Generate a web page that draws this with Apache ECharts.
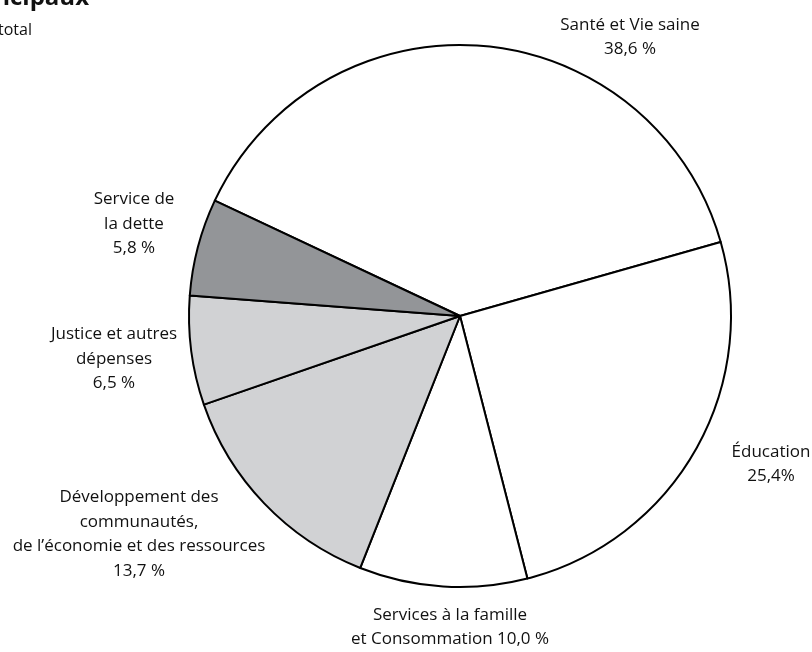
<!DOCTYPE html>
<html>
<head>
<meta charset="utf-8">
<script src="https://cdn.jsdelivr.net/npm/echarts@6/dist/echarts.min.js"></script>
<style>
html,body{margin:0;padding:0;background:#fff;}
#chart{width:812px;height:652px;}
</style>
</head>
<body>
<div id="chart"></div>
<script>
const categories = [
  'Santé et Vie saine',
  'Éducation',
  'Services à la famille\net Consommation',
  'Développement des\ncommunautés,\nde l’économie et des ressources',
  'Justice et autres\ndépenses',
  'Service de\nla dette'
];
const values = [38.6, 25.4, 10.0, 13.7, 6.5, 5.8];
const percentSuffix = [' %', '%', ' %', ' %', ' %', ' %'];
const valueOnNewLine = [true, true, false, true, true, true];
const titleText = 'Dépenses par secteurs principaux';
const subtitleText = 'En pourcentage du total';

const sliceColors = ['#ffffff', '#ffffff', '#ffffff', '#d1d2d4', '#d1d2d4', '#939598'];
const labelPos = [
  [630, 37], [771, 464], [450, 627], [139, 534], [114, 359], [134, 224]
];

const chart = echarts.init(document.getElementById('chart'));
const FONT = '"Open Sans", sans-serif';

chart.setOption({
  animation: false,
  backgroundColor: '#ffffff',
  graphic: [
    { type: 'text', x: 89, y: -2, style: { text: titleText, font: 'bold 24px "Open Sans", sans-serif', fill: '#111111', align: 'right', verticalAlign: 'middle' } },
    { type: 'text', x: 32, y: 30, style: { text: subtitleText, font: '16px "Open Sans", sans-serif', fill: '#111111', align: 'right', verticalAlign: 'middle' } }
  ],
  series: [{
    type: 'pie',
    center: [460, 316],
    radius: 271,
    startAngle: 154.8,
    clockwise: true,
    avoidLabelOverlap: false,
    emphasis: { disabled: true },
    itemStyle: { borderColor: '#000000', borderWidth: 2 },
    labelLine: { show: false },
    label: {
      show: true,
      position: 'outside',
      fontFamily: FONT,
      fontSize: 17,
      lineHeight: 24.5,
      color: '#111111',
      align: 'center',
      formatter: function (p) {
        const i = p.dataIndex;
        const v = values[i].toFixed(1).replace('.', ',') + percentSuffix[i];
        return categories[i] + (valueOnNewLine[i] ? '\n' : ' ') + v;
      }
    },
    labelLayout: function (params) {
      const pos = labelPos[params.dataIndex];
      return { x: pos[0], y: pos[1], align: 'center', verticalAlign: 'middle' };
    },
    data: categories.map((c, i) => ({
      name: c,
      value: values[i],
      itemStyle: { color: sliceColors[i] }
    }))
  }]
});
</script>
</body>
</html>
